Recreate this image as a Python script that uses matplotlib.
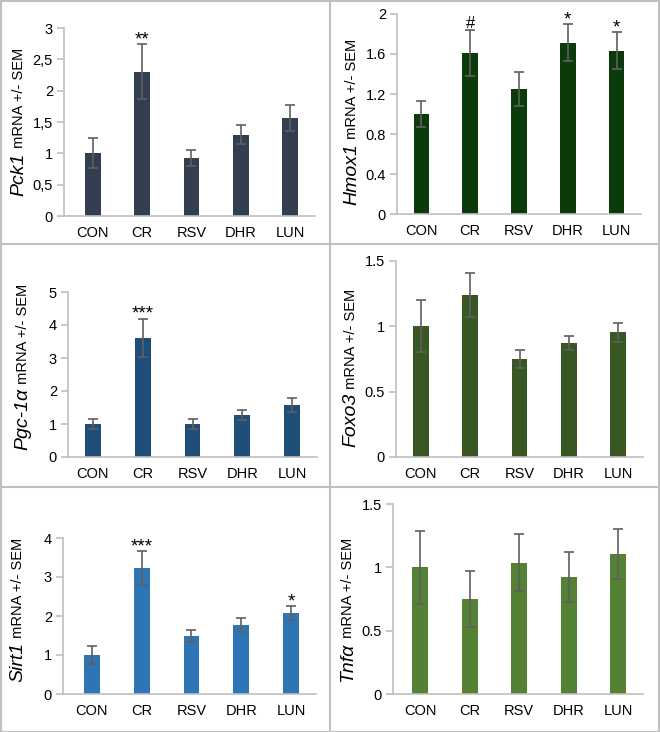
import matplotlib
matplotlib.use("Agg")
import matplotlib.pyplot as plt
from matplotlib.lines import Line2D
from matplotlib.patches import Rectangle

# ---------------------------------------------------------------------------
# Data
# ---------------------------------------------------------------------------
groups = ["CON", "CR", "RSV", "DHR", "LUN"]

pck1_mean = [1.00, 2.30, 0.93, 1.30, 1.56]
pck1_sem = [0.24, 0.44, 0.13, 0.155, 0.21]
pck1_marks = ["", "**", "", "", ""]
pck1_ticks = [0, 0.5, 1, 1.5, 2, 2.5, 3]
pck1_ticklabels = ["0", "0,5", "1", "1,5", "2", "2,5", "3"]

hmox1_mean = [1.00, 1.61, 1.25, 1.71, 1.63]
hmox1_sem = [0.13, 0.23, 0.17, 0.185, 0.185]
hmox1_marks = ["", "#", "", "*", "*"]
hmox1_ticks = [0, 0.4, 0.8, 1.2, 1.6, 2.0]
hmox1_ticklabels = ["0", "0.4", "0.8", "1.2", "1.6", "2"]

pgc_mean = [1.00, 3.62, 1.00, 1.27, 1.58]
pgc_sem = [0.14, 0.575, 0.145, 0.15, 0.215]
pgc_marks = ["", "***", "", "", ""]
pgc_ticks = [0, 1, 2, 3, 4, 5]
pgc_ticklabels = ["0", "1", "2", "3", "4", "5"]

foxo3_mean = [1.00, 1.24, 0.75, 0.87, 0.955]
foxo3_sem = [0.20, 0.17, 0.072, 0.053, 0.073]
foxo3_marks = ["", "", "", "", ""]
foxo3_ticks = [0, 0.5, 1, 1.5]
foxo3_ticklabels = ["0", "0.5", "1", "1.5"]

sirt1_mean = [1.00, 3.23, 1.48, 1.78, 2.07]
sirt1_sem = [0.22, 0.43, 0.15, 0.18, 0.185]
sirt1_marks = ["", "***", "", "", "*"]
sirt1_ticks = [0, 1, 2, 3, 4]
sirt1_ticklabels = ["0", "1", "2", "3", "4"]

tnfa_mean = [1.00, 0.75, 1.035, 0.925, 1.105]
tnfa_sem = [0.29, 0.22, 0.225, 0.20, 0.20]
tnfa_marks = ["", "", "", "", ""]
tnfa_ticks = [0, 0.5, 1, 1.5]
tnfa_ticklabels = ["0", "0.5", "1", "1.5"]

# ---------------------------------------------------------------------------
# Layout (pixels in a 660 x 732 canvas)
# ---------------------------------------------------------------------------
W, H = 660, 732
plt.rcParams["font.family"] = ["Liberation Sans", "DejaVu Sans"]

AX_GRAY = "#bfbfbf"
ERR_GRAY = "#5f5f5f"

panels = [
    # gene, mean, sem, marks, ticks, ticklabels, color,
    # (x_left, x_right, y0, ytop), xlim_left, label centre (px from top)
    ("Pck1", pck1_mean, pck1_sem, pck1_marks, pck1_ticks, pck1_ticklabels,
     "#333f50", (64, 315, 216, 28), -0.58, 122),
    ("Hmox1", hmox1_mean, hmox1_sem, hmox1_marks, hmox1_ticks, hmox1_ticklabels,
     "#0b3b0b", (397, 641, 214, 14), -0.5, 122),
    ("Pgc-1α", pgc_mean, pgc_sem, pgc_marks, pgc_ticks, pgc_ticklabels,
     "#1f4e79", (68, 317, 457, 292), -0.5, 367),
    ("Foxo3", foxo3_mean, foxo3_sem, foxo3_marks, foxo3_ticks, foxo3_ticklabels,
     "#385723", (396, 643, 457, 261), -0.5, 368),
    ("Sirt1", sirt1_mean, sirt1_sem, sirt1_marks, sirt1_ticks, sirt1_ticklabels,
     "#2e75b6", (63, 316, 694, 538), -0.58, 610),
    ("Tnfα", tnfa_mean, tnfa_sem, tnfa_marks, tnfa_ticks, tnfa_ticklabels,
     "#548235", (393, 643, 694, 504), -0.55, 610),
]

fig = plt.figure(figsize=(W / 100, H / 100), dpi=100)
fig.patch.set_facecolor("white")

labels = []
for gene, mean, sem, marks, ticks, ticklabels, color, box, xl, ymid in panels:
    x0, x1, y0, yt = box
    ax = fig.add_axes([x0 / W, 1 - y0 / H, (x1 - x0) / W, (y0 - yt) / H])
    xs = list(range(len(groups)))
    ax.bar(xs, mean, width=0.32, color=color, zorder=2)
    ax.errorbar(xs, mean, yerr=sem, fmt="none", ecolor=ERR_GRAY,
                elinewidth=1.2, capsize=3.6, capthick=1.2, zorder=3)
    for x, m, s, mk in zip(xs, mean, sem, marks):
        if mk:
            ax.annotate(mk, (x, m + s), xytext=(0, 1.5 if mk == "#" else 0),
                        textcoords="offset points", ha="center", va="baseline",
                        fontsize=12 if mk == "#" else 13.5)
    ax.set_xlim(xl, 4.5)
    ax.set_ylim(ticks[0], ticks[-1])
    ax.set_yticks(ticks)
    ax.set_yticklabels(ticklabels)
    ax.set_xticks(xs)
    ax.set_xticklabels(groups)
    for side in ("top", "right"):
        ax.spines[side].set_visible(False)
    for side in ("left", "bottom"):
        ax.spines[side].set_color(AX_GRAY)
        ax.spines[side].set_linewidth(1.2)
    ax.tick_params(axis="y", length=5, width=1.2, color=AX_GRAY,
                   labelsize=10.5, pad=3)
    ax.tick_params(axis="x", length=0, labelsize=10.5, pad=7)
    ax.patch.set_alpha(0)

    bx = x0 - 41
    t1 = fig.text(bx / W, 0.5, gene, rotation=90, rotation_mode="anchor",
                  ha="left", va="baseline", style="italic", fontsize=14)
    t2 = fig.text(bx / W, 0.5, " mRNA +/- SEM", rotation=90,
                  rotation_mode="anchor", ha="left", va="baseline", fontsize=10.5)
    labels.append((t1, t2, bx, ymid))

# centre the two-part y labels on each row
renderer = fig.canvas.get_renderer()
for t1, t2, bx, ymid in labels:
    h1 = t1.get_window_extent(renderer).height
    h2 = t2.get_window_extent(renderer).height
    ystart = ymid + (h1 + h2) / 2  # pixel from top
    t1.set_position((bx / W, 1 - ystart / H))
    t2.set_position((bx / W, 1 - (ystart - h1) / H))

# panel frame and dividers
BORDER = "#c0c0c0"
fig.add_artist(Rectangle((0.5 / W, 0.5 / H), 1 - 1.5 / W, 1 - 1.5 / H,
                         transform=fig.transFigure, fill=False,
                         edgecolor=BORDER, linewidth=1.5))
fig.add_artist(Line2D([330 / W, 330 / W], [0, 1], transform=fig.transFigure,
                      color=BORDER, linewidth=1.5))
for yy in (244, 487):
    fig.add_artist(Line2D([0, 1], [1 - yy / H, 1 - yy / H],
                          transform=fig.transFigure, color=BORDER, linewidth=1.5))

fig.savefig("out.png", dpi=100)
